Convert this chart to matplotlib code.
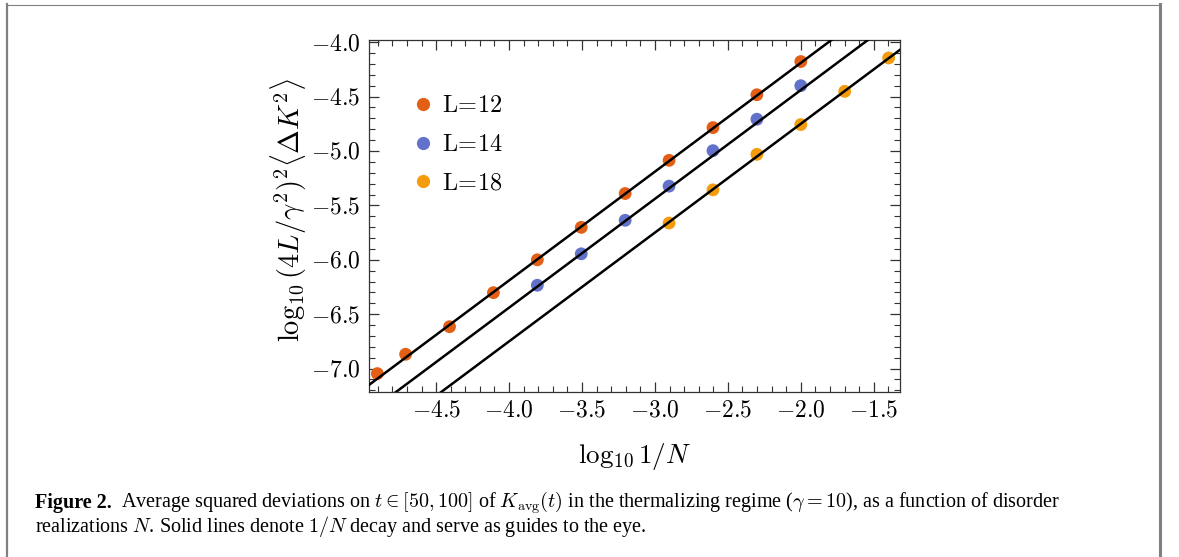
import matplotlib
matplotlib.use("Agg")
import matplotlib.pyplot as plt
import numpy as np
from matplotlib.ticker import MultipleLocator, FuncFormatter
from matplotlib.lines import Line2D

plt.rcParams['mathtext.fontset'] = 'cm'
plt.rcParams['font.family'] = ['Liberation Serif', 'DejaVu Serif']

# Data (log10 1/N , log10 of scaled deviation)
x12 = [-4.903, -4.709, -4.408, -4.107, -3.806, -3.505, -3.204, -2.903, -2.602, -2.301, -2.000]
y12 = [-7.046, -6.868, -6.615, -6.302, -6.000, -5.702, -5.391, -5.086, -4.785, -4.483, -4.178]
x14 = [-3.806, -3.505, -3.204, -2.903, -2.602, -2.301, -2.000]
y14 = [-6.234, -5.945, -5.637, -5.323, -4.997, -4.708, -4.400]
x18 = [-2.903, -2.602, -2.301, -2.000, -1.699, -1.398]
y18 = [-5.662, -5.357, -5.031, -4.757, -4.452, -4.145]
# guide lines: y = x + c (1/N decay)
c_lines = [-2.19, -2.44, -2.75]

labels = [r'$\mathrm{L}\!=\!12$', r'$\mathrm{L}\!=\!14$', r'$\mathrm{L}\!=\!18$']
colors = ['#E35F16', '#6271C9', '#F29C0E']

W, H = 1179, 557
fig = plt.figure(figsize=(W/100, H/100), dpi=100)
ax = fig.add_axes([369/W, 1-392/H, (900-369)/W, (392-40)/H])

xlim = (-4.96, -1.32)
ylim = (-7.215, -3.98)
xx = np.array(xlim)
for c in c_lines:
    ax.plot(xx, xx + c, color='black', lw=1.8, zorder=3)

for xs, ys, col in zip([x12, x14, x18], [y12, y14, y18], colors):
    ax.scatter(xs, ys, s=85, color=col, edgecolors='none', zorder=2)

ax.set_xlim(*xlim)
ax.set_ylim(*ylim)

ax.xaxis.set_major_locator(MultipleLocator(0.5))
ax.xaxis.set_minor_locator(MultipleLocator(0.1))
ax.yaxis.set_major_locator(MultipleLocator(0.5))
ax.yaxis.set_minor_locator(MultipleLocator(0.1))
ax.tick_params(which='both', direction='in', top=True, right=True, color='#333333')
ax.tick_params(which='major', length=7, width=0.9, labelsize=17, pad=6)
ax.tick_params(which='minor', length=4, width=0.8)
for s in ax.spines.values():
    s.set_linewidth(0.9)
    s.set_color('#333333')

fmt = lambda v, p: f"${v:.1f}$"
ax.xaxis.set_major_formatter(FuncFormatter(fmt))
ax.yaxis.set_major_formatter(FuncFormatter(fmt))

fig.text(635/W, 1-457/H, r'$\log_{10}1/N$', fontsize=19.5, ha='center', va='center')
fig.text(289/W, 1-210/H, r'$\log_{10}(4L/\gamma^2)^2\langle\Delta K^2\rangle$', fontsize=20.5,
         ha='center', va='center', rotation=90)

handles = [Line2D([], [], marker='o', ls='none', markersize=9.5, markerfacecolor=c,
                  markeredgecolor='none') for c in colors]
leg = ax.legend(handles, labels, loc='upper left', bbox_to_anchor=(0.06, 0.87),
                frameon=False, fontsize=17.5, handletextpad=0.3, labelspacing=0.68,
                handlelength=1.0, borderaxespad=0)

# caption
cap_fs = 14.5
t0 = fig.text(35/W, 1-508/H, 'Figure 2.', fontsize=cap_fs, fontweight='bold', va='baseline', ha='left')
r = fig.canvas.get_renderer()
bb = t0.get_window_extent(renderer=r)
x_after = (bb.x1 + 9) / W
fig.text(x_after, 1-508/H,
         r'Average squared deviations on $t\in[50,100]$ of $K_{\rm avg}(t)$ in the thermalizing regime ($\gamma=10$), as a function of disorder',
         fontsize=cap_fs, va='baseline', ha='left')
fig.text(35/W, 1-532/H,
         r'realizations $N$. Solid lines denote $1/N$ decay and serve as guides to the eye.',
         fontsize=cap_fs, va='baseline', ha='left')

# page frame
fig.add_artist(Line2D([7/W, 1160/W], [1-4.5/H, 1-4.5/H], color='#808080', lw=0.8))
fig.add_artist(Line2D([7/W, 7/W], [0, 1-4/H], color='#808080', lw=1.6))
fig.add_artist(Line2D([1160/W, 1160/W], [0, 1-4/H], color='#808080', lw=2.2))

fig.savefig('out.png', dpi=100)
